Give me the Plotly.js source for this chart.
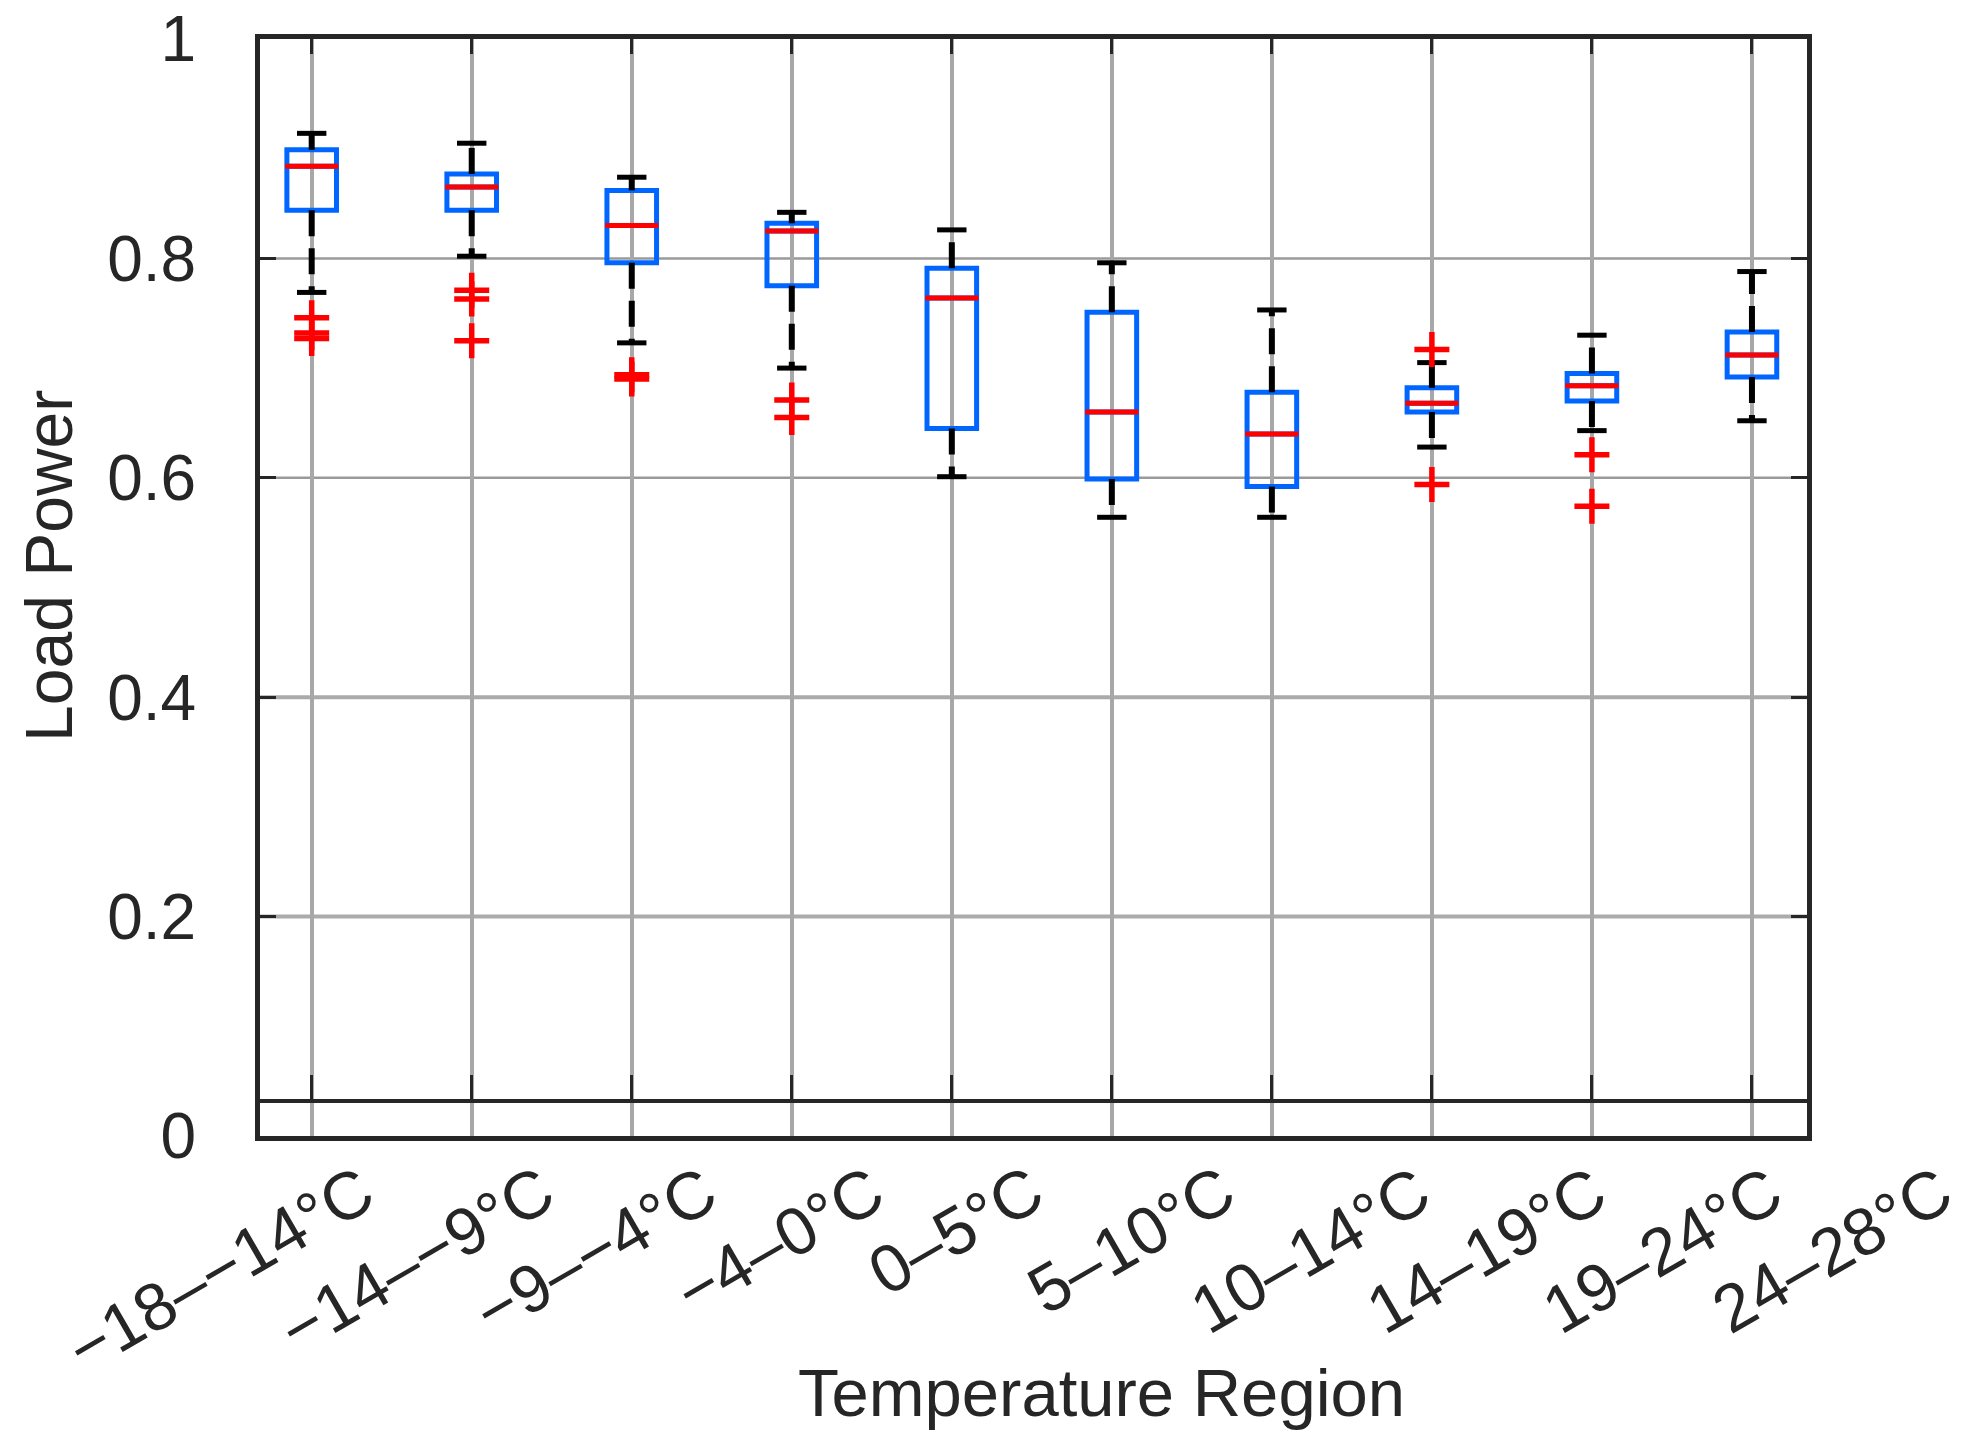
<!DOCTYPE html>
<html>
<head>
<meta charset="utf-8">
<script src="https://cdn.plot.ly/plotly-3.0.1.min.js"></script>
<style>
  html, body { margin: 0; padding: 0; background: #fff; }
  #boxPlot { width: 1967px; height: 1447px; }
</style>
</head>
<body>
<div id="boxPlot"></div>
<script>
// Temperature bins along the x axis.
const categories = ['\u221218\u2013\u221214\u00b0C', '\u221214\u2013\u22129\u00b0C', '\u22129\u2013\u22124\u00b0C', '\u22124\u20130\u00b0C', '0\u20135\u00b0C',
  '5\u201310\u00b0C', '10\u201314\u00b0C', '14\u201319\u00b0C', '19\u201324\u00b0C', '24\u201328\u00b0C'];

// Box statistics, one value per bin.
const upperWhisker = [0.914, 0.905, 0.874, 0.842, 0.826, 0.796, 0.753, 0.705, 0.730, 0.788];
const q3 = [0.899, 0.877, 0.862, 0.832, 0.791, 0.751, 0.678, 0.682, 0.695, 0.733];
const median = [0.884, 0.865, 0.830, 0.825, 0.764, 0.660, 0.640, 0.668, 0.684, 0.712];
const q1 = [0.844, 0.844, 0.796, 0.775, 0.645, 0.599, 0.592, 0.660, 0.670, 0.692];
const lowerWhisker = [0.769, 0.802, 0.723, 0.700, 0.601, 0.564, 0.564, 0.628, 0.643, 0.652];

// Outliers: bin index and value.
const outlierBin = [0, 0, 0, 1, 1, 1, 2, 2, 3, 3, 7, 7, 8, 8];
const outlierValue = [0.746, 0.732, 0.727, 0.771, 0.763, 0.725, 0.694, 0.690, 0.671, 0.655, 0.717, 0.594, 0.621, 0.574];

// Y axis ticks and the extra dark line near the bottom.
const yTicks = [0, 0.2, 0.4, 0.6, 0.8, 1];
const thinGrid = [0.6, 0.8];
const thickGrid = [0.2, 0.4];
const baselineLevel = 0.0315;

// Where the rotated labels are centred, in tick units (they drift right of the ticks).
const labelCenters = [-0.57, 0.65, 1.77, 2.92, 4.02, 5.12, 6.24, 7.34, 8.44, 9.50];

const yRange = [0, 1];
const xRange = [-0.323, 9.344];
const xIdx = categories.map((_, i) => i);

const textColor = '#262626';
const font = 'Liberation Sans, Arial, Helvetica, sans-serif';

// Dashed whisker segments, from box edge out to the whisker end.
const whiskerX = [];
const whiskerY = [];
xIdx.forEach(i => {
  whiskerX.push(i, i, null, i, i, null);
  whiskerY.push(q1[i], lowerWhisker[i], null, q3[i], upperWhisker[i], null);
});

const traces = [
  { x: whiskerX, y: whiskerY, type: 'scatter', mode: 'lines', hoverinfo: 'skip',
    line: { color: '#000000', width: 6, dash: '26px,12px' } },
  { x: xIdx.concat(xIdx), y: lowerWhisker.concat(upperWhisker), type: 'scatter', mode: 'markers', hoverinfo: 'skip',
    marker: { symbol: 'line-ew', size: 21, line: { color: '#000000', width: 5 } } },
  { x: xIdx, q1: q1, median: median, q3: q3, lowerfence: q1, upperfence: q3,
    type: 'box', width: 0.31, whiskerwidth: 0, boxpoints: false,
    line: { color: '#0066ff', width: 5 }, fillcolor: 'rgba(0,0,0,0)' },
  { x: xIdx, y: median, type: 'scatter', mode: 'markers', xaxis: 'x3', hoverinfo: 'skip',
    marker: { symbol: 'line-ew', size: 38, line: { color: '#ff0000', width: 5 } } },
  { x: outlierBin, y: outlierValue, type: 'scatter', mode: 'markers', xaxis: 'x2', hoverinfo: 'skip',
    marker: { symbol: 'cross-thin', size: 25, color: '#ff0000', line: { color: '#ff0000', width: 5.5 } } }
];

// Horizontal grid lines, two weights as in the source figure.
const shapes = thinGrid.map(v => ({
  type: 'line', xref: 'paper', yref: 'y', x0: 0, x1: 1, y0: v, y1: v, layer: 'below',
  line: { color: '#9a9a9a', width: 2.5 }
})).concat(thickGrid.map(v => ({
  type: 'line', xref: 'paper', yref: 'y', x0: 0, x1: 1, y0: v, y1: v, layer: 'below',
  line: { color: '#ababab', width: 4 }
})));

// Rotated category labels, placed in paper units so the last one may sit past the right edge.
const toPaper = v => (v - xRange[0]) / (xRange[1] - xRange[0]);
const annotations = categories.map((c, i) => ({
  text: c, x: toPaper(labelCenters[i]), xref: 'paper', y: 0, yref: 'paper', yshift: -14,
  xanchor: 'center', yanchor: 'top', textangle: -30, showarrow: false, borderpad: 0,
  font: { family: font, size: 67, color: textColor }
}));
annotations.push({
  text: 'Temperature Region', x: 0.544, xref: 'paper', y: -0.234, yref: 'paper',
  xanchor: 'center', yanchor: 'middle', showarrow: false,
  font: { family: font, size: 67, color: textColor }
});
annotations.push({
  text: 'Load Power', x: -0.1368, xref: 'paper', y: 0.52, yref: 'paper',
  xanchor: 'center', yanchor: 'middle', textangle: -90, showarrow: false,
  font: { family: font, size: 66, color: textColor }
});

const layout = {
  width: 1967,
  height: 1447,
  margin: { l: 260, r: 160, t: 39, b: 311 },
  paper_bgcolor: '#ffffff',
  plot_bgcolor: '#ffffff',
  showlegend: false,
  font: { family: font, color: textColor },
  xaxis: {
    range: xRange, tickvals: xIdx, showticklabels: false, ticks: '',
    showgrid: true, gridcolor: '#a8a8a8', gridwidth: 4, zeroline: false,
    showline: true, linecolor: textColor, linewidth: 5, mirror: true
  },
  xaxis2: {
    overlaying: 'x', anchor: 'free', side: 'bottom',
    position: (baselineLevel - yRange[0]) / (yRange[1] - yRange[0]),
    range: xRange, tickvals: xIdx, showticklabels: false,
    ticks: 'inside', ticklen: 24, tickwidth: 3, tickcolor: textColor,
    showgrid: false, zeroline: false, showline: true, linecolor: textColor, linewidth: 4
  },
  xaxis3: {
    overlaying: 'x', anchor: 'y', side: 'top',
    range: xRange, tickvals: xIdx, showticklabels: false,
    ticks: 'inside', ticklen: 15, tickwidth: 3, tickcolor: textColor,
    showgrid: false, zeroline: false, showline: false
  },
  yaxis: {
    range: [yRange[0] - 1e-6, yRange[1] + 1e-6], tickvals: yTicks, showgrid: false, zeroline: false,
    ticks: 'inside', ticklen: 16, tickwidth: 3, tickcolor: textColor,
    showline: true, linecolor: textColor, linewidth: 5, mirror: 'ticks',
    ticklabelstandoff: 46, ticklabeloverflow: 'allow',
    tickfont: { family: font, size: 64, color: textColor }
  },
  shapes: shapes,
  annotations: annotations
};

Plotly.newPlot('boxPlot', traces, layout, { displayModeBar: false, staticPlot: true });
</script>
</body>
</html>
